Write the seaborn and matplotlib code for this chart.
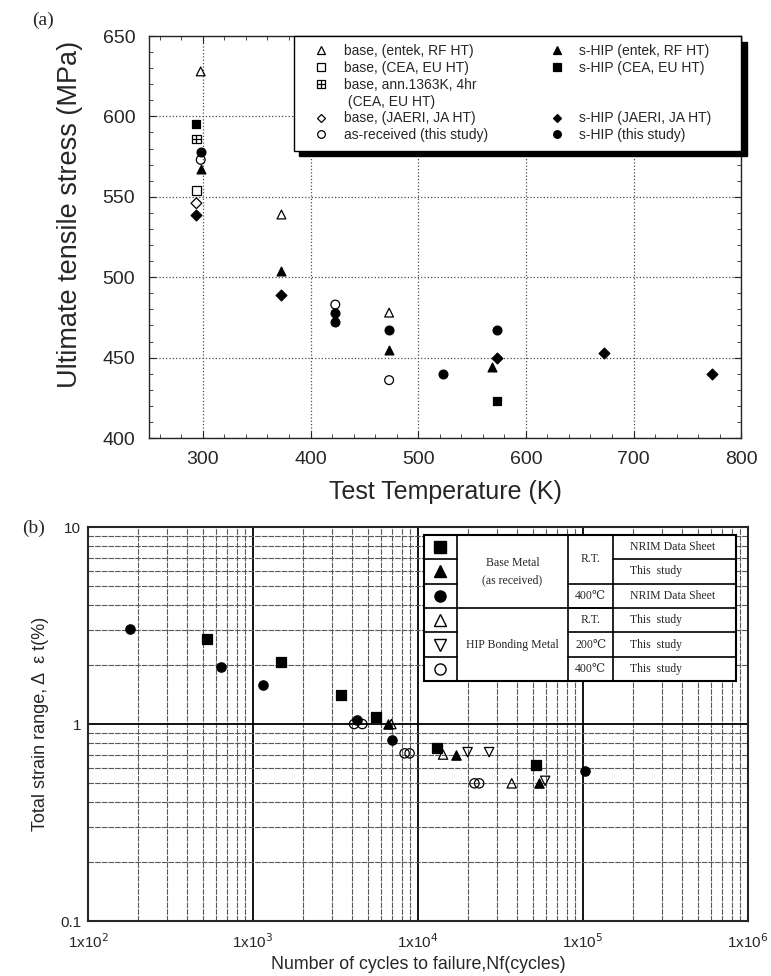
import numpy as np
import pandas as pd
import matplotlib
matplotlib.use("Agg")
import matplotlib.pyplot as plt
import seaborn as sns
from matplotlib.path import Path
from matplotlib.lines import Line2D
from matplotlib.patches import Rectangle
from matplotlib.ticker import MultipleLocator, FixedLocator, FixedFormatter, NullFormatter

sns.set_style("ticks")
plt.rcParams["font.family"] = ["Liberation Sans", "DejaVu Sans"]

# ---- panel (a): UTS vs test temperature ----
base_entek_T = [298, 373, 473]
base_entek_uts = [628, 539, 478]
base_cea_T = [294]
base_cea_uts = [554]
base_ann_T = [294]
base_ann_uts = [586]
base_jaeri_T = [294]
base_jaeri_uts = [546]
asrec_T = [298, 423, 473]
asrec_uts = [573, 483, 436]
ship_entek_T = [298, 373, 473, 569]
ship_entek_uts = [567, 504, 455, 444]
ship_cea_T = [294, 573]
ship_cea_uts = [595, 423]
ship_jaeri_T = [294, 373, 573, 673, 773]
ship_jaeri_uts = [539, 489, 450, 453, 440]
ship_this_T = [298, 423, 423, 473, 523, 573]
ship_this_uts = [578, 478, 472, 467, 440, 467]

# ---- panel (b): fatigue ----
bm_rt_nrim_N = [530, 1470, 3400, 5600, 13000, 52000]
bm_rt_nrim_e = [2.7, 2.07, 1.40, 1.09, 0.76, 0.62]
bm_rt_this_N = [6600, 17000, 54000]
bm_rt_this_e = [1.0, 0.70, 0.50]
bm_400_nrim_N = [180, 640, 1150, 4300, 7000, 103000]
bm_400_nrim_e = [3.05, 1.95, 1.58, 1.05, 0.83, 0.58]
hip_rt_N = [6900, 14200, 37000]
hip_rt_e = [1.0, 0.70, 0.50]
hip_200_N = [20000, 27000, 59000]
hip_200_e = [0.72, 0.72, 0.515]
hip_400_N = [4100, 4600, 8300, 8900, 22000, 23500]
hip_400_e = [1.0, 1.0, 0.71, 0.71, 0.50, 0.50]

# crossed square marker
crossed_sq = Path(
    [(-1, -1), (1, -1), (1, 1), (-1, 1), (-1, -1), (-1, 0), (1, 0), (0, -1), (0, 1)],
    [Path.MOVETO, Path.LINETO, Path.LINETO, Path.LINETO, Path.CLOSEPOLY,
     Path.MOVETO, Path.LINETO, Path.MOVETO, Path.LINETO],
)

pad_r = "      "
series_a = [
    ("base, (entek, RF HT)", base_entek_T, base_entek_uts, "^", False),
    ("base, (CEA, EU HT)", base_cea_T, base_cea_uts, "s", False),
    ("base, ann.1363K, 4hr", base_ann_T, base_ann_uts, crossed_sq, False),
    (" (CEA, EU HT)", [], [], None, False),
    ("base, (JAERI, JA HT)", base_jaeri_T, base_jaeri_uts, "D", False),
    ("as-received (this study)", asrec_T, asrec_uts, "o", False),
    ("s-HIP (entek, RF HT)" + pad_r, ship_entek_T, ship_entek_uts, "^", True),
    ("s-HIP (CEA, EU HT)", ship_cea_T, ship_cea_uts, "s", True),
    (" ", [], [], None, True),
    (" ", [], [], None, True),
    ("s-HIP (JAERI, JA HT)", ship_jaeri_T, ship_jaeri_uts, "D", True),
    ("s-HIP (this study)", ship_this_T, ship_this_uts, "o", True),
]

fig = plt.figure(figsize=(7.71, 9.76), dpi=100)
ax1 = fig.add_axes([0.1933, 0.5512, 0.768, 0.4119])
ax2 = fig.add_axes([0.1141, 0.0563, 0.856, 0.4037])

handles = []
for label, xs, ys, mk, filled in series_a:
    if mk is None:
        handles.append(Line2D([], [], linestyle="none", marker=None))
        continue
    size = 30 if mk == "D" else 40
    if xs:
        sns.scatterplot(x=xs, y=ys, marker=mk, s=size, color="black",
                        facecolor="black" if filled else "none",
                        edgecolor="black", linewidth=0.9, ax=ax1, zorder=3)
    handles.append(Line2D([], [], linestyle="none", marker=mk,
                          markersize=5.5 if mk != "D" else 4.5,
                          markerfacecolor="black" if filled else "none",
                          markeredgecolor="black", markeredgewidth=0.9))

ax1.set_xlim(250, 800)
ax1.set_ylim(400, 650)
ax1.xaxis.set_major_locator(FixedLocator([300, 400, 500, 600, 700, 800]))
ax1.xaxis.set_minor_locator(MultipleLocator(20))
ax1.yaxis.set_major_locator(MultipleLocator(50))
ax1.yaxis.set_minor_locator(MultipleLocator(10))
ax1.tick_params(which="both", direction="in", top=True, right=True, labelsize=14)
ax1.tick_params(which="major", length=5)
ax1.tick_params(which="minor", length=3)
ax1.tick_params(axis="x", pad=9)
ax1.tick_params(axis="y", pad=10)
ax1.grid(True, which="major", color="0.3", linestyle=":", linewidth=0.9)
for sp in ax1.spines.values():
    sp.set_linewidth(1.0)
ax1.set_xlabel("Test Temperature (K)", fontsize=18, labelpad=9)
ax1.set_ylabel("Ultimate tensile stress (MPa)", fontsize=19.5, labelpad=14, y=0.555)

leg = ax1.legend(handles, [s[0] for s in series_a], ncol=2, loc="upper right",
                 borderaxespad=0.0, fontsize=10, frameon=True, fancybox=False,
                 shadow={"ox": 4, "oy": -4, "color": "black", "alpha": 1},
                 edgecolor="black", labelspacing=0.2, handlelength=2.8,
                 handletextpad=0.2, columnspacing=3.6, borderpad=0.6)
leg.get_frame().set_linewidth(1.0)
leg.get_frame().set_alpha(1)

# ---- panel (b) ----
series_b = [
    (bm_rt_nrim_N, bm_rt_nrim_e, "s", True),
    (bm_rt_this_N, bm_rt_this_e, "^", True),
    (bm_400_nrim_N, bm_400_nrim_e, "o", True),
    (hip_rt_N, hip_rt_e, "^", False),
    (hip_200_N, hip_200_e, "v", False),
    (hip_400_N, hip_400_e, "o", False),
]
for xs, ys, mk, filled in series_b:
    sns.scatterplot(x=xs, y=ys, marker=mk, s=45, color="black",
                    facecolor="black" if filled else "none",
                    edgecolor="black", linewidth=0.9, ax=ax2, zorder=3)

ax2.set_xscale("log")
ax2.set_yscale("log")
ax2.set_xlim(100, 1e6)
ax2.set_ylim(0.1, 10)
ax2.xaxis.set_major_locator(FixedLocator([1e2, 1e3, 1e4, 1e5, 1e6]))
ax2.xaxis.set_major_formatter(FixedFormatter([r"1x10$^{2}$", r"1x10$^{3}$", r"1x10$^{4}$",
                                              r"1x10$^{5}$", r"1x10$^{6}$"]))
ax2.yaxis.set_major_locator(FixedLocator([0.1, 1, 10]))
ax2.yaxis.set_major_formatter(FixedFormatter(["0.1", "1", "10"]))
ax2.xaxis.set_minor_formatter(NullFormatter())
ax2.yaxis.set_minor_formatter(NullFormatter())
ax2.tick_params(which="both", direction="in", length=0, labelsize=11)
ax2.tick_params(axis="x", pad=8)
ax2.tick_params(axis="y", pad=5)
ax2.grid(True, which="major", color="black", linestyle="-", linewidth=1.3)
ax2.grid(True, which="minor", color="0.35", linestyle=(0, (5, 1)), linewidth=0.8)
for sp in ax2.spines.values():
    sp.set_linewidth(1.5)
ax2.set_xlabel("Number of cycles to failure,Nf(cycles)", fontsize=12.8, labelpad=4)
ax2.set_ylabel("Total strain range, Δ  ε t(%)", fontsize=13, labelpad=8)

# table legend in panel (b)
tx = [0.509, 0.559, 0.727, 0.796, 0.982]
ttop, tbot = 0.980, 0.609
rh = (ttop - tbot) / 6
tr = ax2.transAxes
ax2.add_patch(Rectangle((tx[0], tbot), tx[-1] - tx[0], ttop - tbot, transform=tr,
                        facecolor="white", edgecolor="black", linewidth=1.5, zorder=5))
def hline(i, c0, c1, lw=1.2):
    y = ttop - i * rh
    ax2.add_line(Line2D([tx[c0], tx[c1]], [y, y], transform=tr, color="black", lw=lw, zorder=6))
for c in range(1, 4):
    ax2.add_line(Line2D([tx[c], tx[c]], [tbot, ttop], transform=tr, color="black", lw=1.2, zorder=6))
for i in range(1, 6):
    hline(i, 0, 1)
    hline(i, 3, 4)
hline(3, 1, 3)
for i in (2, 3, 4, 5):
    hline(i, 2, 3)

serif = ["Liberation Serif", "DejaVu Serif"]
tkw = dict(transform=tr, fontsize=8.5, family=serif, zorder=7, va="center")
for i, (xs, ys, mk, filled) in enumerate(series_b):
    ax2.plot([(tx[0] + tx[1]) / 2], [ttop - (i + 0.5) * rh], transform=tr, marker=mk,
             markersize=8, linestyle="none", markerfacecolor="black" if filled else "white",
             markeredgecolor="black", markeredgewidth=1.0, zorder=7, clip_on=False)
gx = (tx[1] + tx[2]) / 2
ax2.text(gx, ttop - 1.5 * rh, "Base Metal\n(as received)", ha="center", linespacing=1.6, **tkw)
ax2.text(gx, ttop - 4.5 * rh, "HIP Bonding Metal", ha="center", **tkw)
cx = (tx[2] + tx[3]) / 2
temps = [("R.T.", 1.0), ("400℃", 2.5), ("R.T.", 3.5), ("200℃", 4.5), ("400℃", 5.5)]
for t, r in temps:
    ax2.text(cx, ttop - r * rh, t, ha="center", **tkw)
sources = ["NRIM Data Sheet", "This  study", "NRIM Data Sheet", "This  study", "This  study", "This  study"]
for i, s in enumerate(sources):
    ax2.text(tx[3] + 0.026, ttop - (i + 0.5) * rh, s, ha="left", **tkw)

fig.text(0.042, 0.979, "(a)", fontsize=14, family=serif, va="center")
fig.text(0.029, 0.459, "(b)", fontsize=14, family=serif, va="center")

fig.savefig("out.png", dpi=100, facecolor="white")
